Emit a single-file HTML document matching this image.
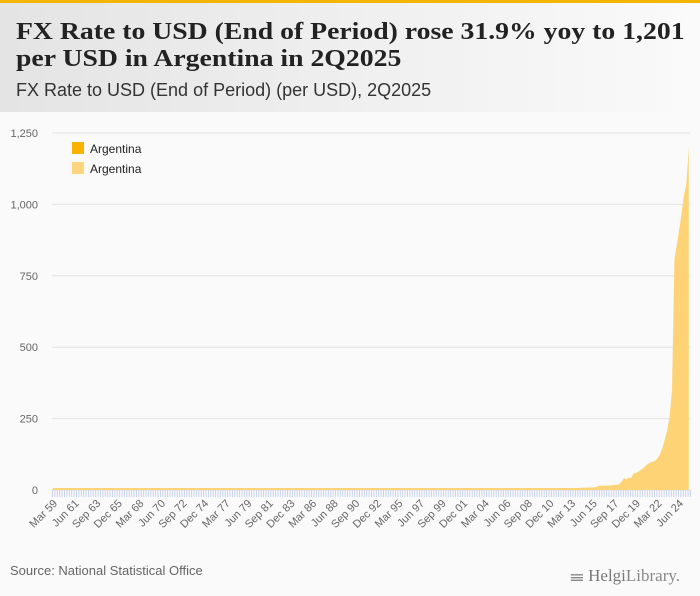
<!DOCTYPE html>
<html><head><meta charset="utf-8"><style>
body{margin:0;width:700px;height:596px;background:#fafafa;overflow:hidden;font-family:"Liberation Sans",sans-serif}
#top{position:absolute;left:0;top:0;width:700px;height:3px;background:#f5b400}
#hdr{position:absolute;left:0;top:3px;width:700px;height:109px;background:linear-gradient(90deg,#e4e4e4,#fafafa)}
h1{position:absolute;left:16px;top:19px;margin:0;font:bold 24px/27px "Liberation Serif",serif;color:#222;white-space:nowrap;transform:scaleX(1.155);transform-origin:0 0}
#sub{position:absolute;left:16px;top:80px;font-size:18px;color:#333}
#src{position:absolute;left:10px;top:563px;font-size:13px;color:#666}
#logo{position:absolute;left:570px;top:563px;font:17px "Liberation Serif",serif;color:#888}
svg{position:absolute;left:0;top:0}
</style></head><body>
<div id="top"></div>
<div id="hdr"></div>
<h1>FX Rate to USD (End of Period) rose 31.9% yoy to 1,201<br>per USD in Argentina in 2Q2025</h1>
<div id="sub">FX Rate to USD (End of Period) (per USD), 2Q2025</div>
<svg id="c" width="700" height="596"></svg>
<div id="src">Source: National Statistical Office</div>
<div id="logo">𝍢 <b style="font-weight:normal;color:#777">Helgi</b>Library.</div>
<script>
const yTicks=[0,250,500,750,1000,1250];
const yTickLabels=["0","250","500","750","1,000","1,250"];
const xLabels=["Mar 59","Jun 61","Sep 63","Dec 65","Mar 68","Jun 70","Sep 72","Dec 74","Mar 77","Jun 79","Sep 81","Dec 83","Mar 86","Jun 88","Sep 90","Dec 92","Mar 95","Jun 97","Sep 99","Dec 01","Mar 04","Jun 06","Sep 08","Dec 10","Mar 13","Jun 15","Sep 17","Dec 19","Mar 22","Jun 24"];
const values=[
0,0,0,0, 0,0,0,0, 0,0,0,0, 0,0,0,0, 0,0,0,0, 0,0,0,0, 0,0,0,0, 0,0,0,0,
0,0,0,0, 0,0,0,0, 0,0,0,0, 0,0,0,0, 0,0,0,0, 0,0,0,0, 0,0,0,0, 0,0,0,0,
0,0,0,0, 0,0,0,0, 0,0,0,0, 0,0,0,0, 0,0,0,0, 0,0,0,0, 0,0,0,0, 0,0,0,0,
0,0,0,0, 0,0,0,0, 0,0,0,0, 0,0,0,0, 0,0,0,0, 0,0,0,0, 0,0,0,0, 0,0,0,0,
1,1,1,1, 1,1,1,1, 1,1,1,1, 1,1,1,1, 1,1,1,1, 1,1,1,1, 1,1,1,1, 1,1,1,1, 1,1,1,1, 1,1,1,1, 1,1,1,1,
2.0,2.8,3.7,3.4, 3.0,2.8,2.9,2.9, 2.9,2.96,2.98,2.97, 2.9,2.9,2.9,3.0, 3.1,3.1,3.1,3.1,
3.1,3.1,3.1,3.15, 3.2,3.0,3.1,3.45, 3.7,3.8,3.8,3.8, 3.9,3.9,3.96,3.98, 4.0,4.1,4.2,4.3,
4.4,4.5,4.7,4.9, 5.1,5.4,5.8,6.5, 8.0,8.1,8.4,8.6, 8.8,9.1,9.4,13, 15.4,14.9,15.3,15.9,
15.4,16.6,17.3,18.8, 20.1,28.9,41.3,37.7, 43.4,42.5,57.6,59.9, 64.5,70.5,76.2,84.1,
92,95.7,98.7,102.7, 111,125,147,177, 209,256,350,808, 858,912,970,1032, 1073,1201];
const NS="http://www.w3.org/2000/svg",svg=document.getElementById('c');
const X0=52,X1=690,Y0=490,Y1=133,N=values.length,step=(X1-X0)/N;
const xs=i=>X0+i*step, ys=v=>Y0-(v/1250)*(Y0-Y1);
function mk(t,a){const e=document.createElementNS(NS,t);for(const k in a)e.setAttribute(k,a[k]);svg.appendChild(e);return e;}
yTicks.forEach((v,i)=>{
 const g=mk('line',{x1:X0,x2:X1,y1:ys(v),y2:ys(v),stroke:'#e3e3e3','stroke-width':1});
 
 
 const t=mk('text',{x:38,y:ys(v)+4,'text-anchor':'end','font-size':11,fill:'#666','font-family':'Liberation Sans, sans-serif'});
 t.textContent=yTickLabels[i];
 
 
});
let d='M'+X0+','+Y0;
values.forEach((v,i)=>{d+=' L'+(xs(i)+step/2)+','+Math.min(ys(v),Y0-2);});
d+=' L'+(xs(N-1)+step/2)+','+Y0+' Z';
const area=mk('path',{d:d,fill:'#fdd375'});


for(let i=0;i<=N;i++){
 const tk=mk('line',{x1:xs(i)+0.5,x2:xs(i)+0.5,y1:Y0,y2:Y0+7,stroke:'#c8d3ea','stroke-width':1});
 
 
}
xLabels.forEach((l,j)=>{
 const x=xs(j*9)+6,y=Y0+14;
 const t=mk('text',{x:x,y:y,'text-anchor':'end','font-size':11,fill:'#666','font-family':'Liberation Sans, sans-serif',transform:'rotate(-45 '+x+' '+y+')'});
 t.textContent=l;
 
 
});
[['#f9b200',142],['#fdd57e',162]].forEach((c,i)=>{
 const r=mk('rect',{x:72,y:c[1],width:12,height:12,fill:c[0]});
 
 
 const t=mk('text',{x:90,y:c[1]+11,'font-size':12,fill:'#222','font-family':'Liberation Sans, sans-serif'});
 t.textContent='Argentina';
 
 
});
</script>
</body></html>
